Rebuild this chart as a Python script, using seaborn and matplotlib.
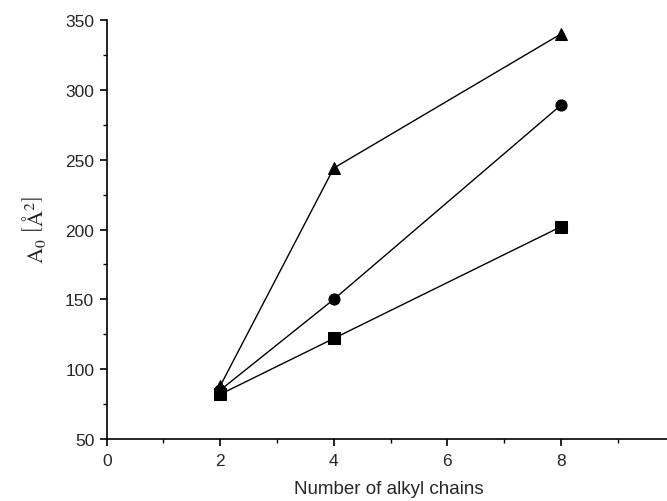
import matplotlib
matplotlib.use("Agg")
import matplotlib.pyplot as plt
import seaborn as sns
import pandas as pd
from matplotlib.ticker import MultipleLocator

chains = [2, 4, 8]
tri_vals = [88, 244, 340]
circ_vals = [85, 150, 289]
sq_vals = [82, 122, 202]
series_names = ["triangle", "circle", "square"]

df = pd.DataFrame({
    "x": chains * 3,
    "y": tri_vals + circ_vals + sq_vals,
    "s": [series_names[0]] * 3 + [series_names[1]] * 3 + [series_names[2]] * 3,
})

sns.set_style("ticks")
plt.rcParams["font.family"] = ["Liberation Sans", "DejaVu Sans"]
plt.rcParams["mathtext.fontset"] = "stix"

fig = plt.figure(figsize=(6.67, 5.02), dpi=100)
ax = fig.add_axes([0.160, 0.1235, 0.845, 0.8345])

sns.lineplot(data=df, x="x", y="y", style="s", hue="s",
             palette=["black"] * 3,
             markers={"triangle": "^", "circle": "o", "square": "s"},
             dashes=False, markersize=8, linewidth=1.0,
             markeredgecolor="black", legend=False, ax=ax)

ax.set_xlim(0, 9.93)
ax.set_ylim(50, 350)
ax.xaxis.set_major_locator(MultipleLocator(2))
ax.xaxis.set_minor_locator(MultipleLocator(1))
ax.yaxis.set_major_locator(MultipleLocator(50))
ax.yaxis.set_minor_locator(MultipleLocator(25))
ax.tick_params(which="major", direction="out", length=5, width=1.2, labelsize=12.5, color="black")
ax.tick_params(axis="x", which="major", pad=5)
ax.tick_params(axis="y", which="major", pad=4)
ax.tick_params(which="minor", direction="out", length=3, width=1, color="black")
for sp in ["top", "right"]:
    ax.spines[sp].set_visible(False)
for sp in ["left", "bottom"]:
    ax.spines[sp].set_linewidth(1.2)
    ax.spines[sp].set_color("black")

ax.set_xlabel("Number of alkyl chains", fontsize=13.5, labelpad=9)
ax.set_ylabel(r"$\mathrm{A_0\ \left[\AA^2\right]}$", fontsize=16, labelpad=12)

fig.savefig("out.png", dpi=100)
